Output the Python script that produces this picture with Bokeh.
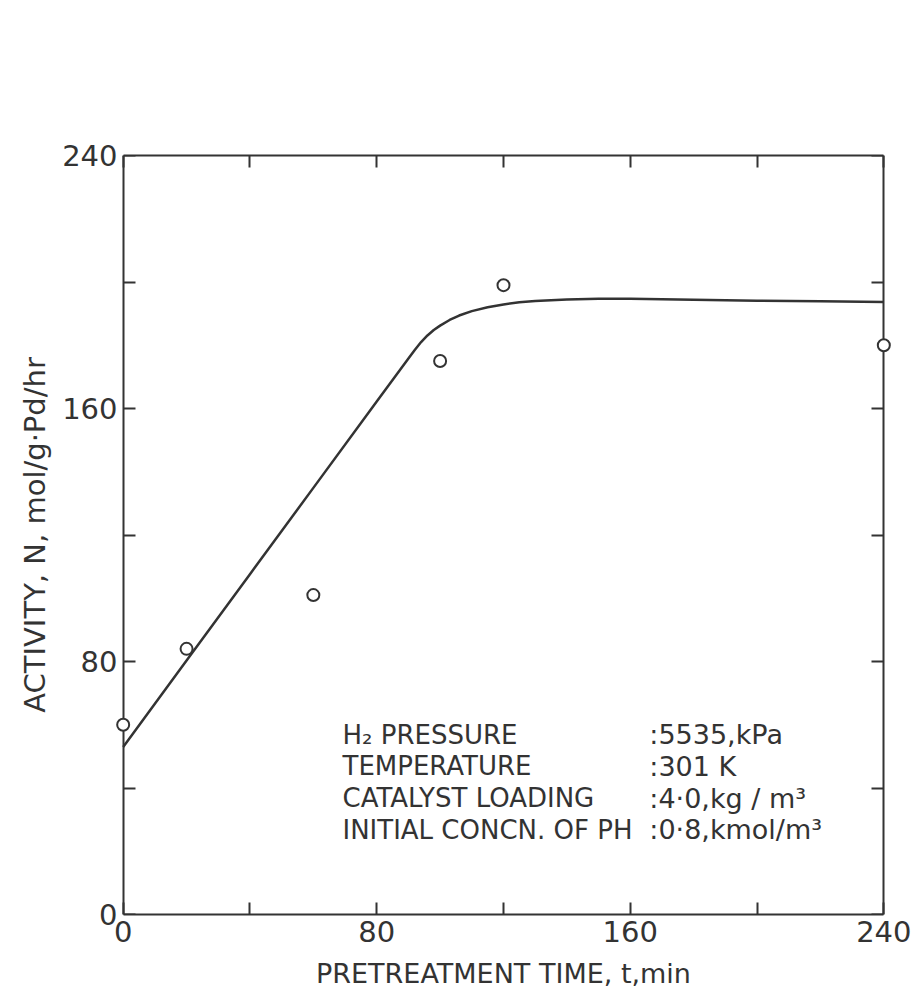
from bokeh.plotting import figure
from bokeh.models import FixedTicker, LinearAxis, Range1d, Label
from bokeh.embed import file_html
from bokeh.resources import INLINE

# observed data points (pretreatment time, min ; activity)
time_obs = [0, 20, 60, 100, 120, 240]
activity_obs = [60, 84, 101, 175, 199, 180]

# hand-drawn fitted curve
time_fit = [0, 20, 40, 60, 80, 90, 92, 94, 96, 98, 100, 103, 106, 110, 115,
            120, 125, 130, 140, 150, 160, 180, 200, 220, 240]
activity_fit = [53, 80.3, 107.6, 134.9, 162.2, 175.8, 178.5, 181.0, 183.1,
                184.8, 186.2, 188.0, 189.4, 190.8, 192.0, 192.9, 193.6,
                194.0, 194.5, 194.7, 194.7, 194.4, 194.1, 193.9, 193.7]

major_ticks = [0, 80, 160, 240]
minor_ticks = [40, 120, 200]

cond_names = ["H\u2082 PRESSURE", "TEMPERATURE", "CATALYST LOADING",
              "INITIAL CONCN. OF PH"]
cond_values = [":5535,kPa", ":301 K", ":4\u00b70,kg / m\u00b3",
               ":0\u00b78,kmol/m\u00b3"]

INK = "#333333"
FONT = "DejaVu Sans"

# a little horizontal room so the end markers are not clipped
p = figure(width=912, height=997, output_backend="svg", toolbar_location=None,
           x_range=Range1d(-4, 244), y_range=Range1d(0, 240),
           min_border_left=110, min_border_right=16,
           min_border_top=155, min_border_bottom=83,
           background_fill_color="white", border_fill_color="white")

p.grid.visible = False
p.outline_line_color = None


def style_axis(ax, show_line, show_labels):
    ax.ticker = FixedTicker(ticks=major_ticks, minor_ticks=minor_ticks)
    ax.bounds = (0, 240)
    if show_line:
        ax.axis_line_color = INK
        ax.axis_line_width = 2
        ax.major_tick_in = 12
        ax.major_tick_out = 0
        ax.minor_tick_in = 12
        ax.minor_tick_out = 0
        ax.major_tick_line_color = INK
        ax.minor_tick_line_color = INK
        ax.major_tick_line_width = 2
        ax.minor_tick_line_width = 2
    else:
        ax.axis_line_color = None
        ax.major_tick_line_color = None
        ax.minor_tick_line_color = None
        ax.major_tick_in = 0
        ax.major_tick_out = 0
        ax.minor_tick_in = 0
        ax.minor_tick_out = 0
    if show_labels:
        ax.major_label_text_font = FONT
        ax.major_label_text_font_size = "29px"
        ax.major_label_text_color = INK
    else:
        ax.major_label_text_font_size = "0px"
        ax.major_label_text_color = None


# bottom axis: line, ticks and labels
style_axis(p.xaxis[0], True, True)
p.xaxis[0].major_label_standoff = 6

# left axis in the border: labels only (frame edge is left of x = 0)
style_axis(p.yaxis[0], False, True)
p.yaxis[0].major_label_standoff = -7

p.xaxis[0].axis_label = "PRETREATMENT TIME, t,min"
p.yaxis[0].axis_label = "ACTIVITY, N, mol/g\u00b7Pd/hr"
for ax in (p.xaxis[0], p.yaxis[0]):
    ax.axis_label_text_font = FONT
    ax.axis_label_text_font_style = "normal"
    ax.axis_label_text_color = INK
p.xaxis[0].axis_label_text_font_size = "27px"
p.yaxis[0].axis_label_text_font_size = "29px"
p.xaxis[0].axis_label_standoff = 13
p.yaxis[0].axis_label_standoff = 7

# left frame line with inward ticks, placed at x = 0
left_line = LinearAxis()
style_axis(left_line, True, False)
left_line.fixed_location = 0
p.add_layout(left_line, "left")

top_axis = LinearAxis()
style_axis(top_axis, True, False)
p.add_layout(top_axis, "above")

right_axis = LinearAxis()
style_axis(right_axis, True, False)
right_axis.fixed_location = 240
p.add_layout(right_axis, "right")

p.line(time_fit, activity_fit, line_width=2.5, line_color=INK)
p.scatter(time_obs, activity_obs, marker="circle", size=12,
          fill_color="white", line_color=INK, line_width=2, level="overlay")

# experimental conditions block
for i, (name, val) in enumerate(zip(cond_names, cond_values)):
    yb = 56.8 - 10.0 * i
    p.add_layout(Label(x=69.2, y=yb, text=name, text_font=FONT,
                       text_font_size="26px", text_color=INK,
                       text_baseline="alphabetic"))
    p.add_layout(Label(x=166.0, y=yb, text=val, text_font=FONT,
                       text_font_size="27px", text_color=INK,
                       text_baseline="alphabetic"))

open("out.html", "w").write(file_html(p, INLINE))
